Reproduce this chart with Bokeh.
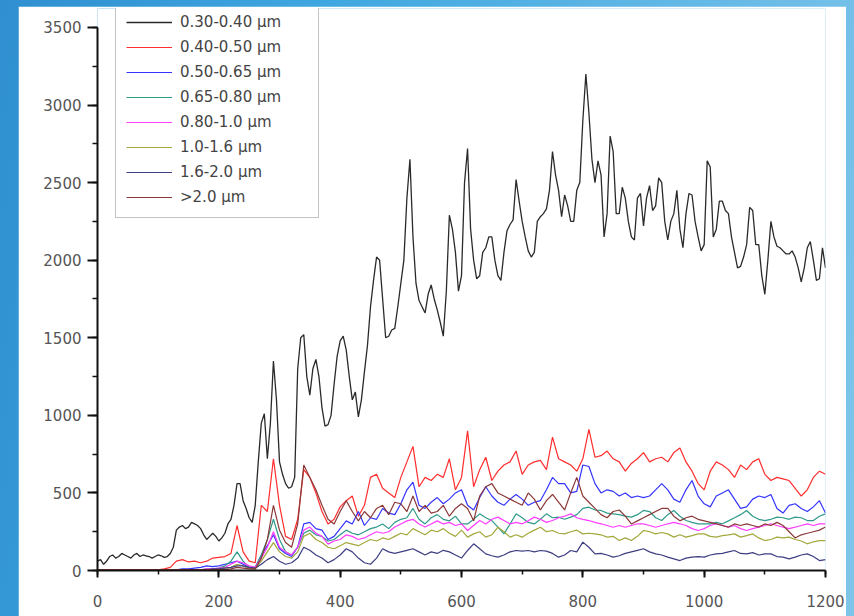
import numpy as np
from bokeh.plotting import figure
from bokeh.layouts import column
from bokeh.models import SingleIntervalTicker, ColumnDataSource
from bokeh.embed import file_html
from bokeh.resources import INLINE

# ---------------- data ----------------
labels = ["0.30-0.40 \u00b5m", "0.40-0.50 \u00b5m", "0.50-0.65 \u00b5m", "0.65-0.80 \u00b5m",
          "0.80-1.0 \u00b5m", "1.0-1.6 \u00b5m", "1.6-2.0 \u00b5m", ">2.0 \u00b5m"]

x_fine = list(range(0, 1205, 5))
x_coarse = list(range(0, 1210, 10))

s_030_040 = [
    60, 70, 40, 60, 90, 100, 80, 90, 110, 100, 90, 80, 100, 110, 90, 100, 95, 90, 80, 90,
    100, 95, 85, 90, 110, 150, 260, 280, 290, 270, 280, 310, 300, 290, 270, 230, 200, 220, 240, 220,
    190, 210, 240, 300, 330, 420, 560, 560, 450, 400, 340, 310, 420, 700, 950, 1010, 720, 950, 1350, 1100,
    700, 620, 560, 530, 540, 600, 1300, 1500, 1520, 1250, 1130, 1300, 1360, 1250, 1050, 930, 940, 1000, 1200, 1380,
    1480, 1510, 1420, 1250, 1100, 1150, 990, 1100, 1280, 1450, 1700, 1870, 2020, 2000, 1750, 1500, 1510, 1550, 1560, 1700,
    1850, 2000, 2400, 2650, 2150, 1850, 1740, 1700, 1660, 1780, 1840, 1750, 1680, 1600, 1510, 1800, 2290, 2200, 2050, 1800,
    1900, 2500, 2720, 2200, 2000, 1880, 1900, 2050, 2080, 2150, 2150, 2000, 1900, 1870, 2050, 2190, 2230, 2260, 2520, 2380,
    2250, 2150, 2060, 2020, 2050, 2250, 2280, 2300, 2330, 2450, 2700, 2550, 2450, 2280, 2420, 2350, 2250, 2250, 2450, 2500,
    2900, 3200, 2950, 2650, 2500, 2640, 2550, 2150, 2300, 2800, 2700, 2300, 2300, 2470, 2400, 2250, 2150, 2130, 2400, 2430,
    2220, 2400, 2480, 2320, 2350, 2530, 2500, 2250, 2130, 2250, 2300, 2450, 2200, 2080, 2300, 2430, 2420, 2250, 2150, 2060,
    2100, 2640, 2600, 2150, 2200, 2380, 2380, 2320, 2300, 2150, 2050, 1950, 1960, 2020, 2100, 2340, 2320, 2100, 2100, 1900,
    1780, 2000, 2250, 2150, 2090, 2080, 2060, 2040, 2040, 2060, 2020, 1950, 1860, 1950, 2080, 2120, 2000, 1870, 1880, 2080,
    1950,
]

s_040_050 = [
    5, 5, 5, 5, 5, 5, 5, 5, 5, 5, 5,
    10, 20, 60, 70, 55, 60, 50, 60, 80, 85,
    90, 110, 290, 120, 60, 50, 420, 380, 720, 420,
    220, 200, 330, 650, 600, 500, 380, 300, 330, 410,
    450, 480, 350, 420, 600, 620, 530, 500, 470, 600,
    700, 800, 540, 600, 580, 620, 600, 720, 520, 600,
    900, 540, 650, 730, 580, 640, 680, 700, 770, 620,
    680, 700, 710, 650, 860, 720, 700, 680, 640, 720,
    910, 730, 740, 770, 720, 700, 640, 690, 720, 760,
    700, 720, 730, 700, 760, 790, 700, 640, 560, 520,
    640, 700, 680, 650, 600, 680, 650, 700, 720, 620,
    580, 600, 590, 580, 530, 480, 520, 600, 640, 620,
]

s_050_065 = [
    5, 5, 5, 5, 5, 5, 5, 5, 5, 5, 5,
    5, 5, 5, 10, 10, 15, 20, 30, 25, 30,
    40, 50, 60, 40, 20, 20, 100, 160, 230, 140,
    110, 90, 150, 300, 310, 270, 260, 200, 220, 270,
    320, 300, 380, 290, 340, 330, 400, 370, 360, 430,
    520, 570, 420, 400, 440, 470, 430, 460, 500, 520,
    420, 390, 470, 540, 480, 440, 420, 460, 490, 460,
    420, 440, 450, 520, 600, 560, 560, 500, 510, 680,
    670, 560, 500, 520, 510, 480, 500, 470, 480, 470,
    480, 520, 560, 520, 460, 440, 520, 580, 480, 430,
    410, 480, 500, 520, 460, 400, 410, 460, 480, 470,
    490, 400, 370, 420, 430, 400, 380, 410, 450, 370,
]

s_065_080 = [
    5, 5, 5, 5, 5, 5, 5, 5, 5, 5, 5,
    5, 5, 5, 5, 5, 5, 5, 10, 10, 15,
    30, 60, 120, 60, 20, 20, 100, 200, 330, 200,
    120, 100, 150, 240, 260, 230, 220, 190, 200, 230,
    260, 240, 230, 250, 270, 280, 300, 270, 310, 330,
    340, 400, 330, 300, 340, 360, 330, 320, 350, 300,
    300, 330, 365, 340, 322, 280, 236, 300, 365, 340,
    310, 300, 330, 365, 340, 344, 330, 344, 360, 400,
    408, 390, 387, 370, 365, 360, 350, 344, 360, 387,
    380, 340, 322, 360, 387, 350, 322, 310, 300, 301,
    300, 310, 301, 320, 340, 360, 387, 350, 330, 322,
    330, 344, 340, 330, 344, 340, 322, 322, 350, 365,
]

s_080_100 = [
    5, 5, 5, 5, 5, 5, 5, 5, 5, 5, 5,
    5, 5, 5, 5, 5, 5, 5, 10, 10, 15,
    20, 40, 60, 50, 30, 20, 80, 150, 250, 150,
    120, 100, 150, 260, 280, 240, 220, 170, 190, 200,
    230, 220, 200, 210, 230, 250, 240, 250, 280, 300,
    320, 330, 300, 280, 300, 320, 300, 310, 290, 300,
    258, 290, 322, 300, 330, 344, 322, 300, 310, 301,
    320, 344, 330, 310, 322, 340, 350, 365, 340, 330,
    322, 310, 301, 290, 279, 290, 279, 290, 301, 300,
    290, 279, 290, 301, 310, 301, 290, 270, 258, 270,
    290, 301, 290, 279, 290, 270, 258, 270, 280, 290,
    301, 290, 279, 270, 279, 290, 300, 290, 300, 301,
]

s_100_160 = [
    5, 5, 5, 5, 5, 5, 5, 5, 5, 5, 5,
    5, 5, 5, 5, 5, 5, 5, 5, 5, 10,
    15, 20, 40, 30, 15, 10, 60, 120, 180, 120,
    90, 80, 120, 220, 240, 200, 180, 150, 140, 160,
    180, 170, 160, 180, 200, 190, 210, 200, 220, 240,
    230, 270, 250, 230, 260, 250, 270, 240, 220, 260,
    215, 236, 250, 215, 230, 279, 250, 215, 230, 215,
    240, 260, 279, 250, 258, 240, 236, 250, 260, 236,
    240, 236, 230, 215, 220, 193, 210, 193, 220, 258,
    250, 236, 245, 236, 215, 230, 215, 225, 236, 236,
    220, 215, 225, 230, 236, 215, 225, 236, 210, 193,
    200, 215, 210, 215, 200, 190, 172, 185, 193, 193,
]

s_160_200 = [
    5, 5, 5, 5, 5, 5, 5, 5, 5, 5, 5,
    5, 5, 5, 5, 5, 5, 5, 5, 10, 10,
    15, 20, 30, 30, 20, 15, 40, 70, 90, 60,
    40, 50, 80, 150, 130, 100, 80, 50, 70, 100,
    140, 120, 80, 50, 40, 80, 140, 120, 110, 120,
    130, 140, 120, 100, 120, 110, 130, 120, 100, 80,
    129, 172, 140, 107, 95, 86, 100, 120, 129, 125,
    129, 120, 129, 125, 110, 86, 100, 129, 120, 183,
    150, 107, 110, 100, 86, 95, 110, 120, 130, 140,
    120, 107, 100, 86, 75, 64, 80, 86, 90, 86,
    100, 107, 110, 120, 129, 110, 107, 115, 100, 107,
    107, 90, 86, 75, 86, 100, 107, 90, 64, 70,
]

s_gt_200 = [
    5, 5, 5, 5, 5, 5, 5, 5, 5, 5, 5,
    5, 5, 5, 5, 5, 5, 5, 5, 5, 5,
    5, 10, 20, 15, 10, 10, 80, 200, 420, 260,
    180, 150, 300, 680, 600, 520, 420, 330, 300, 380,
    450, 380, 320, 380, 340, 400, 420, 360, 440, 430,
    380, 480, 380, 420, 370, 380, 420, 350, 400, 430,
    400, 320, 480, 540, 560, 500, 480, 460, 440, 420,
    500, 460, 390, 450, 490, 440, 390, 500, 600, 480,
    440, 400, 360, 340, 380, 390, 350, 300, 320, 340,
    360, 380, 400, 400, 350, 320, 340, 350, 330, 320,
    310, 300, 290, 280, 300, 290, 300, 290, 280, 300,
    290, 310, 290, 250, 210, 230, 240, 250, 260, 280,
]

series = [s_030_040, s_040_050, s_050_065, s_065_080, s_080_100, s_100_160, s_160_200, s_gt_200]
colors = ["#2a2a2a", "#ff2d2d", "#3434ff", "#2f9a8a", "#ff3cff", "#a3a83a", "#3e3e82", "#8a3838"]

# ---------------- figure ----------------
p = figure(width=828, height=610, x_range=(0, 1200), y_range=(0, 3622),
           output_backend="svg", toolbar_location=None,
           min_border_left=79, min_border_right=21, min_border_top=2, min_border_bottom=46,
           border_fill_color="white", background_fill_color="white", outline_line_color=None)
p.margin = (6, 8, 0, 18)
p.grid.visible = False

for i, (lab, ys, col) in enumerate(zip(labels, series, colors)):
    xs = x_fine if len(ys) == len(x_fine) else x_coarse
    src = ColumnDataSource(dict(x=xs[:len(ys)], y=ys[:len(xs)]))
    p.line("x", "y", source=src, line_color=col, line_width=1.3 if i == 0 else 1.2,
           legend_label=lab)

for ax in (p.xaxis[0], p.yaxis[0]):
    ax.axis_line_color = "#111111"
    ax.axis_line_width = 2
    ax.major_tick_line_color = "#111111"
    ax.major_tick_line_width = 2
    ax.minor_tick_line_color = "#111111"
    ax.minor_tick_line_width = 1.5
    ax.major_tick_in = 0
    ax.minor_tick_in = 0
    ax.major_label_text_font = "DejaVu Sans"
    ax.major_label_text_font_size = "15px"
    ax.major_label_text_color = "#555555"

p.yaxis.bounds = (0, 3500)
p.xaxis.ticker = SingleIntervalTicker(interval=200, num_minor_ticks=2)
p.yaxis.ticker = SingleIntervalTicker(interval=500, num_minor_ticks=2)
p.xaxis.major_tick_out = 7
p.xaxis.minor_tick_out = 4
p.xaxis.major_label_standoff = 17
p.yaxis.major_tick_out = 10
p.yaxis.minor_tick_out = 5
p.yaxis.major_label_standoff = 6

lg = p.legend[0]
lg.location = (18, 352)
lg.border_line_color = "#888888"
lg.border_line_width = 1
lg.background_fill_color = "white"
lg.background_fill_alpha = 1
lg.padding = 10
lg.margin = 0
lg.spacing = 5
lg.glyph_width = 46
lg.glyph_height = 20
lg.label_height = 20
lg.label_width = 128
lg.label_standoff = 8
lg.label_text_font = "DejaVu Sans"
lg.label_text_font_size = "15px"
lg.label_text_color = "#444444"

layout = column(p, width=854, height=616,
                styles={"background": "linear-gradient(100deg, #2f8fd0 0%, #40a8e0 35%, #7fc5ea 100%)"})

open("out.html", "w").write(file_html(layout, INLINE))
